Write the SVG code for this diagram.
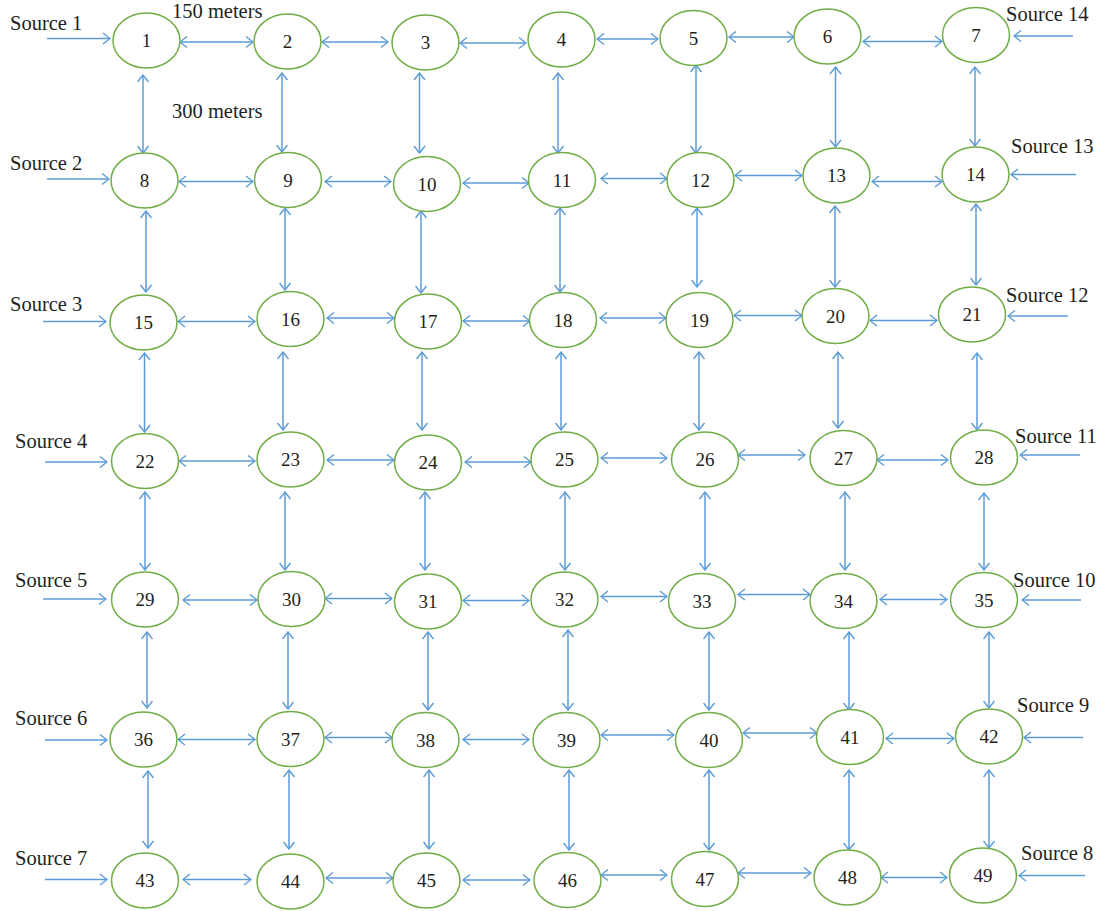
<svg xmlns="http://www.w3.org/2000/svg" width="1103" height="911" viewBox="0 0 1103 911">
<style>
.n ellipse{fill:#fff;stroke:#70AD47;stroke-width:1.5}
.n text{font-family:"Liberation Serif","Times New Roman",serif;font-size:19px;fill:#231f20;text-anchor:middle}
.lbl{font-family:"Liberation Serif","Times New Roman",serif;font-size:20.5px;fill:#231f20}
.c line{stroke:#5B9BD5;stroke-width:1.5;fill:none}
.c .bi{marker-start:url(#ah);marker-end:url(#ah)}
.c .uni{marker-end:url(#ah)}
</style>
<defs>
<marker id="ah" viewBox="0 0 9 13" refX="8" refY="6.5" markerWidth="9" markerHeight="13" markerUnits="userSpaceOnUse" orient="auto-start-reverse">
<path d="M1,1 L8,6.5 L1,12" fill="none" stroke="#5B9BD5" stroke-width="1.4"/>
</marker>
</defs>
<rect width="1103" height="911" fill="#fff"/>
<g id="connectors" class="c">
<!-- horizontal row 1 -->
<line class="bi" x1="180" y1="42" x2="253" y2="42"/>
<line class="bi" x1="322" y1="42" x2="388" y2="42"/>
<line class="bi" x1="460" y1="43" x2="526" y2="43"/>
<line class="bi" x1="597" y1="39" x2="658" y2="39"/>
<line class="bi" x1="729" y1="37" x2="794" y2="37"/>
<line class="bi" x1="863" y1="41.5" x2="942" y2="41.5"/>
<!-- row 2 -->
<line class="bi" x1="179" y1="181.5" x2="253" y2="181.5"/>
<line class="bi" x1="325" y1="181.5" x2="391" y2="181.5"/>
<line class="bi" x1="463" y1="183" x2="529" y2="183"/>
<line class="bi" x1="601" y1="178.5" x2="667" y2="178.5"/>
<line class="bi" x1="735" y1="175.5" x2="802" y2="175.5"/>
<line class="bi" x1="872" y1="181.5" x2="942" y2="181.5"/>
<!-- row 3 -->
<line class="bi" x1="178" y1="321.5" x2="255" y2="321.5"/>
<line class="bi" x1="327" y1="318" x2="394" y2="318"/>
<line class="bi" x1="463" y1="321" x2="530" y2="321"/>
<line class="bi" x1="600" y1="318" x2="666" y2="318"/>
<line class="bi" x1="734" y1="315.5" x2="802" y2="315.5"/>
<line class="bi" x1="870" y1="320.5" x2="937" y2="320.5"/>
<!-- row 4 -->
<line class="bi" x1="179" y1="461" x2="255" y2="461"/>
<line class="bi" x1="327" y1="460" x2="394" y2="460"/>
<line class="bi" x1="465" y1="462" x2="531" y2="462"/>
<line class="bi" x1="601" y1="458" x2="667" y2="458"/>
<line class="bi" x1="738" y1="455" x2="805" y2="455"/>
<line class="bi" x1="877" y1="460" x2="948" y2="460"/>
<!-- row 5 -->
<line class="bi" x1="183" y1="600" x2="257" y2="600"/>
<line class="bi" x1="325" y1="598.5" x2="392" y2="598.5"/>
<line class="bi" x1="463" y1="600.5" x2="529" y2="600.5"/>
<line class="bi" x1="601" y1="596.5" x2="667" y2="596.5"/>
<line class="bi" x1="738" y1="594.5" x2="810" y2="594.5"/>
<line class="bi" x1="880" y1="599.5" x2="947" y2="599.5"/>
<!-- row 6 -->
<line class="bi" x1="178" y1="739.5" x2="255" y2="739.5"/>
<line class="bi" x1="325" y1="737.5" x2="392" y2="737.5"/>
<line class="bi" x1="463" y1="739.5" x2="529" y2="739.5"/>
<line class="bi" x1="601" y1="735" x2="674" y2="735"/>
<line class="bi" x1="743" y1="733" x2="817" y2="733"/>
<line class="bi" x1="886" y1="738.5" x2="954" y2="738.5"/>
<!-- row 7 -->
<line class="bi" x1="183" y1="879.5" x2="251" y2="879.5"/>
<line class="bi" x1="326" y1="878" x2="393" y2="878"/>
<line class="bi" x1="463" y1="880" x2="530" y2="880"/>
<line class="bi" x1="601" y1="875" x2="667" y2="875"/>
<line class="bi" x1="738" y1="873" x2="811" y2="873"/>
<line class="bi" x1="881" y1="877.5" x2="947" y2="877.5"/>
<!-- verticals 1-2 -->
<line class="bi" x1="143" y1="75" x2="143" y2="153"/>
<line class="bi" x1="282" y1="73" x2="282" y2="152"/>
<line class="bi" x1="419.5" y1="73" x2="419.5" y2="153"/>
<line class="bi" x1="558" y1="73" x2="558" y2="153"/>
<line class="bi" x1="696" y1="65" x2="696" y2="153"/>
<line class="bi" x1="835.5" y1="67" x2="835.5" y2="147"/>
<line class="bi" x1="975" y1="67" x2="975" y2="146"/>
<!-- verticals 2-3 -->
<line class="bi" x1="146" y1="211" x2="146" y2="292"/>
<line class="bi" x1="285" y1="208" x2="285" y2="290"/>
<line class="bi" x1="421" y1="211" x2="421" y2="293"/>
<line class="bi" x1="560" y1="208" x2="560" y2="292"/>
<line class="bi" x1="697" y1="208" x2="697" y2="287"/>
<line class="bi" x1="835" y1="206" x2="835" y2="287"/>
<line class="bi" x1="976" y1="204" x2="976" y2="285"/>
<!-- verticals 3-4 -->
<line class="bi" x1="144.5" y1="353" x2="144.5" y2="432"/>
<line class="bi" x1="283" y1="352" x2="283" y2="430"/>
<line class="bi" x1="422" y1="352" x2="422" y2="430"/>
<line class="bi" x1="561" y1="352" x2="561" y2="430"/>
<line class="bi" x1="699" y1="352" x2="699" y2="430"/>
<line class="bi" x1="838" y1="352" x2="838" y2="428"/>
<line class="bi" x1="977" y1="353" x2="977" y2="430"/>
<!-- verticals 4-5 -->
<line class="bi" x1="145" y1="492" x2="145" y2="570"/>
<line class="bi" x1="285" y1="492" x2="285" y2="570"/>
<line class="bi" x1="425" y1="492" x2="425" y2="570"/>
<line class="bi" x1="565" y1="492" x2="565" y2="570"/>
<line class="bi" x1="705" y1="492" x2="705" y2="570"/>
<line class="bi" x1="845" y1="492" x2="845" y2="570"/>
<line class="bi" x1="984" y1="493" x2="984" y2="570"/>
<!-- verticals 5-6 -->
<line class="bi" x1="147" y1="632" x2="147" y2="708"/>
<line class="bi" x1="288" y1="632" x2="288" y2="709"/>
<line class="bi" x1="428" y1="632" x2="428" y2="710"/>
<line class="bi" x1="568" y1="630" x2="568" y2="710"/>
<line class="bi" x1="709" y1="632" x2="709" y2="710"/>
<line class="bi" x1="849" y1="632" x2="849" y2="710"/>
<line class="bi" x1="989" y1="632" x2="989" y2="708"/>
<!-- verticals 6-7 -->
<line class="bi" x1="148" y1="771" x2="148" y2="848"/>
<line class="bi" x1="289" y1="770" x2="289" y2="849"/>
<line class="bi" x1="429" y1="770" x2="429" y2="849"/>
<line class="bi" x1="569" y1="770" x2="569" y2="850"/>
<line class="bi" x1="709" y1="770" x2="709" y2="850"/>
<line class="bi" x1="849" y1="770" x2="849" y2="850"/>
<line class="bi" x1="989" y1="770" x2="989" y2="848"/>
<!-- sources -->
<line class="uni" x1="47" y1="38.5" x2="110" y2="38.5"/>
<line class="uni" x1="47" y1="179" x2="109" y2="179"/>
<line class="uni" x1="43" y1="321.5" x2="106" y2="321.5"/>
<line class="uni" x1="45" y1="462" x2="107" y2="462"/>
<line class="uni" x1="43" y1="599" x2="106" y2="599"/>
<line class="uni" x1="45" y1="740" x2="107" y2="740"/>
<line class="uni" x1="45" y1="879.5" x2="107" y2="879.5"/>
<line class="uni" x1="1085" y1="875.5" x2="1019" y2="875.5"/>
<line class="uni" x1="1083" y1="737.5" x2="1024" y2="737.5"/>
<line class="uni" x1="1081" y1="600" x2="1022" y2="600"/>
<line class="uni" x1="1080" y1="455" x2="1020" y2="455"/>
<line class="uni" x1="1068" y1="316" x2="1008" y2="316"/>
<line class="uni" x1="1076" y1="174.5" x2="1011" y2="174.5"/>
<line class="uni" x1="1073" y1="36" x2="1014" y2="36"/>
</g>
<g id="labels" class="lbl">
<text x="10" y="30">Source 1</text>
<text x="10" y="170">Source 2</text>
<text x="10" y="311">Source 3</text>
<text x="15" y="448">Source 4</text>
<text x="15" y="587">Source 5</text>
<text x="15" y="725">Source 6</text>
<text x="15" y="865">Source 7</text>
<text x="1021" y="860">Source 8</text>
<text x="1017" y="712">Source 9</text>
<text x="1013" y="587">Source 10</text>
<text x="1015" y="443">Source 11</text>
<text x="1006" y="302">Source 12</text>
<text x="1011" y="153">Source 13</text>
<text x="1006" y="21">Source 14</text>
<text x="172" y="18">150 meters</text>
<text x="172" y="118">300 meters</text>
</g>
<g id="node1" class="n"><ellipse cx="146.5" cy="40.5" rx="33.5" ry="27.5"/><text x="146.5" y="47">1</text></g>
<g id="node2" class="n"><ellipse cx="287.5" cy="41.5" rx="33.5" ry="27.5"/><text x="287.5" y="48">2</text></g>
<g id="node3" class="n"><ellipse cx="425.5" cy="42.5" rx="33.5" ry="27.5"/><text x="425.5" y="49">3</text></g>
<g id="node4" class="n"><ellipse cx="561.5" cy="39.5" rx="33.5" ry="27.5"/><text x="561.5" y="46">4</text></g>
<g id="node5" class="n"><ellipse cx="693.5" cy="38" rx="33.5" ry="27.5"/><text x="693.5" y="44.5">5</text></g>
<g id="node6" class="n"><ellipse cx="827.5" cy="36.5" rx="33.5" ry="27.5"/><text x="827.5" y="43">6</text></g>
<g id="node7" class="n"><ellipse cx="976" cy="35" rx="33.5" ry="27.5"/><text x="976" y="41.5">7</text></g>
<g id="node8" class="n"><ellipse cx="144.5" cy="180.5" rx="33.5" ry="27.5"/><text x="144.5" y="187">8</text></g>
<g id="node9" class="n"><ellipse cx="288" cy="180" rx="33.5" ry="27.5"/><text x="288" y="186.5">9</text></g>
<g id="node10" class="n"><ellipse cx="427" cy="184" rx="33.5" ry="27.5"/><text x="427" y="190.5">10</text></g>
<g id="node11" class="n"><ellipse cx="562" cy="180" rx="33.5" ry="27.5"/><text x="562" y="186.5">11</text></g>
<g id="node12" class="n"><ellipse cx="700.5" cy="180" rx="33.5" ry="27.5"/><text x="700.5" y="186.5">12</text></g>
<g id="node13" class="n"><ellipse cx="836.5" cy="175.5" rx="33.5" ry="27.5"/><text x="836.5" y="182">13</text></g>
<g id="node14" class="n"><ellipse cx="975.5" cy="174.5" rx="33.5" ry="27.5"/><text x="975.5" y="181">14</text></g>
<g id="node15" class="n"><ellipse cx="143.5" cy="322.5" rx="33.5" ry="27.5"/><text x="143.5" y="329">15</text></g>
<g id="node16" class="n"><ellipse cx="290.5" cy="319" rx="33.5" ry="27.5"/><text x="290.5" y="325.5">16</text></g>
<g id="node17" class="n"><ellipse cx="428" cy="321.5" rx="33.5" ry="27.5"/><text x="428" y="328">17</text></g>
<g id="node18" class="n"><ellipse cx="563" cy="320" rx="33.5" ry="27.5"/><text x="563" y="326.5">18</text></g>
<g id="node19" class="n"><ellipse cx="699.5" cy="320" rx="33.5" ry="27.5"/><text x="699.5" y="326.5">19</text></g>
<g id="node20" class="n"><ellipse cx="835.5" cy="316" rx="33.5" ry="27.5"/><text x="835.5" y="322.5">20</text></g>
<g id="node21" class="n"><ellipse cx="972" cy="314.5" rx="33.5" ry="27.5"/><text x="972" y="321">21</text></g>
<g id="node22" class="n"><ellipse cx="145" cy="461" rx="33.5" ry="27.5"/><text x="145" y="467.5">22</text></g>
<g id="node23" class="n"><ellipse cx="290.5" cy="459.5" rx="33.5" ry="27.5"/><text x="290.5" y="466">23</text></g>
<g id="node24" class="n"><ellipse cx="428" cy="462.5" rx="33.5" ry="27.5"/><text x="428" y="469">24</text></g>
<g id="node25" class="n"><ellipse cx="564.5" cy="459.5" rx="33.5" ry="27.5"/><text x="564.5" y="466">25</text></g>
<g id="node26" class="n"><ellipse cx="705" cy="459.5" rx="33.5" ry="27.5"/><text x="705" y="466">26</text></g>
<g id="node27" class="n"><ellipse cx="843.5" cy="458" rx="33.5" ry="27.5"/><text x="843.5" y="464.5">27</text></g>
<g id="node28" class="n"><ellipse cx="984" cy="457.5" rx="33.5" ry="27.5"/><text x="984" y="464">28</text></g>
<g id="node29" class="n"><ellipse cx="145" cy="599.5" rx="33.5" ry="27.5"/><text x="145" y="606">29</text></g>
<g id="node30" class="n"><ellipse cx="291.5" cy="599" rx="33.5" ry="27.5"/><text x="291.5" y="605.5">30</text></g>
<g id="node31" class="n"><ellipse cx="428" cy="601.5" rx="33.5" ry="27.5"/><text x="428" y="608">31</text></g>
<g id="node32" class="n"><ellipse cx="564.5" cy="599.5" rx="33.5" ry="27.5"/><text x="564.5" y="606">32</text></g>
<g id="node33" class="n"><ellipse cx="702" cy="601" rx="33.5" ry="27.5"/><text x="702" y="607.5">33</text></g>
<g id="node34" class="n"><ellipse cx="843.5" cy="601" rx="33.5" ry="27.5"/><text x="843.5" y="607.5">34</text></g>
<g id="node35" class="n"><ellipse cx="984" cy="600" rx="33.5" ry="27.5"/><text x="984" y="606.5">35</text></g>
<g id="node36" class="n"><ellipse cx="143.5" cy="739.5" rx="33.5" ry="27.5"/><text x="143.5" y="746">36</text></g>
<g id="node37" class="n"><ellipse cx="290.5" cy="739" rx="33.5" ry="27.5"/><text x="290.5" y="745.5">37</text></g>
<g id="node38" class="n"><ellipse cx="425.5" cy="740" rx="33.5" ry="27.5"/><text x="425.5" y="746.5">38</text></g>
<g id="node39" class="n"><ellipse cx="566.5" cy="740" rx="33.5" ry="27.5"/><text x="566.5" y="746.5">39</text></g>
<g id="node40" class="n"><ellipse cx="709" cy="740" rx="33.5" ry="27.5"/><text x="709" y="746.5">40</text></g>
<g id="node41" class="n"><ellipse cx="850" cy="737" rx="33.5" ry="27.5"/><text x="850" y="743.5">41</text></g>
<g id="node42" class="n"><ellipse cx="989" cy="736.5" rx="33.5" ry="27.5"/><text x="989" y="743">42</text></g>
<g id="node43" class="n"><ellipse cx="145" cy="880.5" rx="33.5" ry="27.5"/><text x="145" y="887">43</text></g>
<g id="node44" class="n"><ellipse cx="290.5" cy="881.5" rx="33.5" ry="27.5"/><text x="290.5" y="888">44</text></g>
<g id="node45" class="n"><ellipse cx="426.5" cy="880.5" rx="33.5" ry="27.5"/><text x="426.5" y="887">45</text></g>
<g id="node46" class="n"><ellipse cx="567.5" cy="880" rx="33.5" ry="27.5"/><text x="567.5" y="886.5">46</text></g>
<g id="node47" class="n"><ellipse cx="705" cy="879" rx="33.5" ry="27.5"/><text x="705" y="885.5">47</text></g>
<g id="node48" class="n"><ellipse cx="847.5" cy="877.5" rx="33.5" ry="27.5"/><text x="847.5" y="884">48</text></g>
<g id="node49" class="n"><ellipse cx="983" cy="875.5" rx="33.5" ry="27.5"/><text x="983" y="882">49</text></g>
</svg>
